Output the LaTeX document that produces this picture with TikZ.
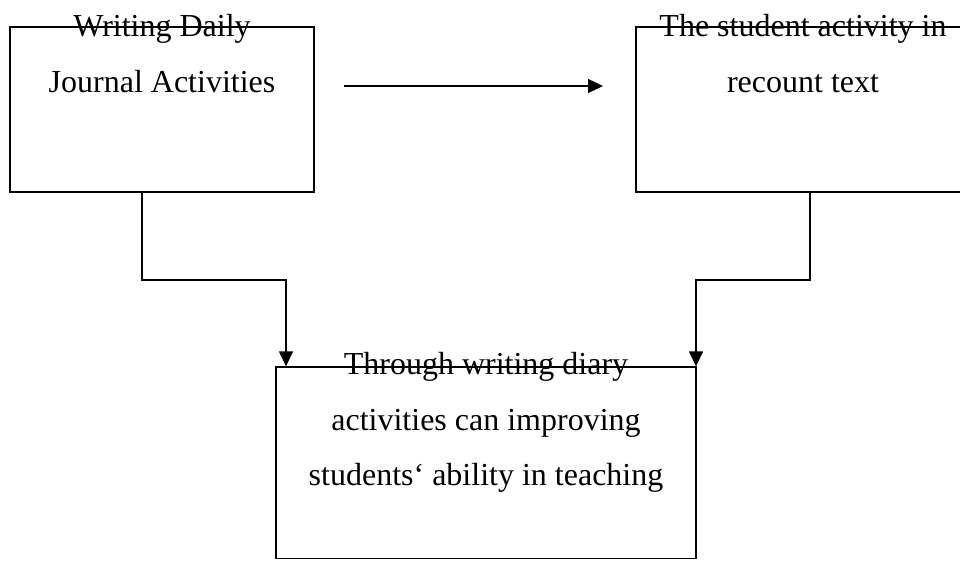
\documentclass[tikz,border=0pt]{standalone}
\usepackage{fontspec}
\setmainfont{Liberation Serif}
\usetikzlibrary{arrows.meta}
\tikzset{
  boxnode/.style={draw, line width=1.3pt, inner sep=0pt, minimum width=#1},
  lbl/.style={anchor=base, inner sep=0pt, font=\fontsize{32}{38}\selectfont},
  arr/.style={line width=1.3pt, -{Triangle[length=15pt,width=14pt]}},
  link/.style={line width=1.3pt}
}
\begin{document}
\begin{tikzpicture}[x=1pt,y=-1pt]
\clip (0,0) rectangle (960,560);
\useasboundingbox (0,0) rectangle (960,560);
% boxes
\node[boxnode=304pt, minimum height=165pt] (L) at (162,109.5) {};
\node[boxnode=334pt, minimum height=165pt] (R) at (803,109.5) {};
\node[boxnode=420pt, minimum height=191.5pt] (B) at (486,462.75) {};
% texts
\node[lbl] (l1) at (162,36) {Writing Daily};
\node[lbl] (l2) at (162,92) {Journal Activities};
\node[lbl] (r1) at (803,36) {The student activity in};
\node[lbl] (r2) at (803,92) {recount text};
\node[lbl] (b1) at (486,374) {Through writing diary};
\node[lbl] (b2) at (486,430) {activities can improving};
\node[lbl] (b3) at (486,485) {students‘ ability in teaching};
% horizontal arrow
\coordinate (hs) at (344,86);
\coordinate (he) at (603,86);
\draw[arr] (hs) -- (he);
% connectors
\coordinate (lk) at (142,280);
\coordinate (lt) at (286,280);
\draw[arr] (L.south -| lk) -- (lk) -- (lt) -- (B.north -| lt);
\coordinate (rk) at (810,280);
\coordinate (rt) at (696,280);
\draw[arr] (R.south -| rk) -- (rk) -- (rt) -- (B.north -| rt);
\end{tikzpicture}
\end{document}
